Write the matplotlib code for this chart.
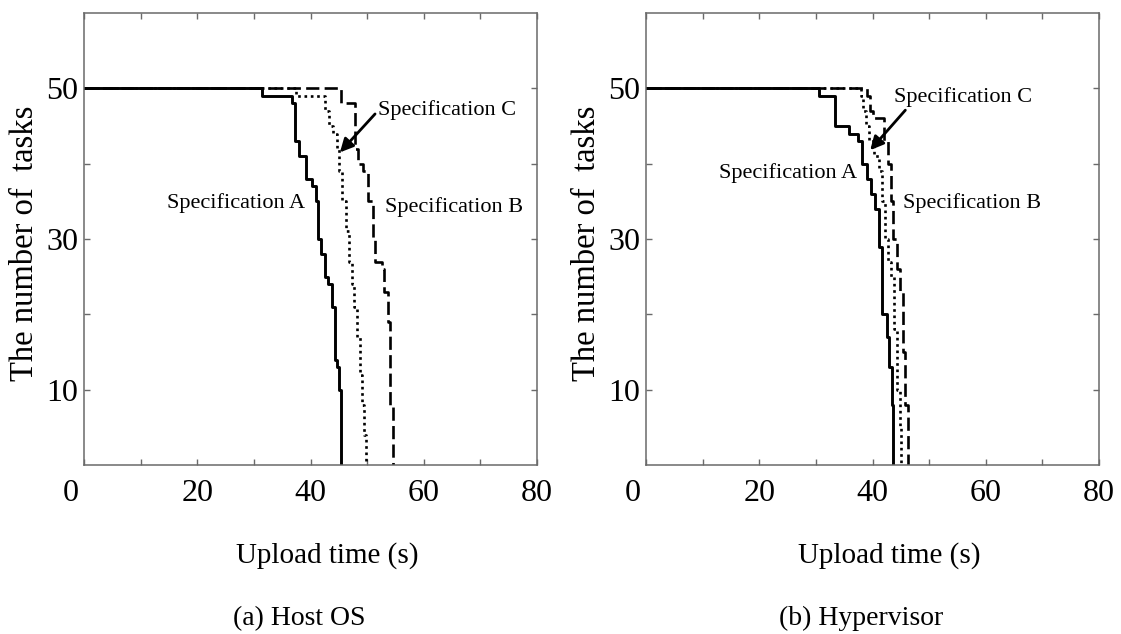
import matplotlib
matplotlib.use("Agg")
import matplotlib.pyplot as plt
import matplotlib.transforms as mtrans

plt.rcParams['font.family'] = ['Liberation Serif', 'DejaVu Serif']

# step points: time (s) where the count drops, and the count after the drop
host_a_t = [0, 31.5, 36.7, 37.3, 37.9, 39.2, 40.3, 40.9, 41.3, 41.9, 42.6, 43.1, 43.8, 44.3, 44.7, 45.0, 45.3]
host_a_n = [50, 49, 48, 43, 41, 38, 37, 35, 30, 28, 25, 24, 21, 14, 13, 10, 0]
host_b_t = [0, 45.3, 47.9, 48.4, 49.3, 50.2, 51.0, 51.4, 52.6, 53.0, 53.6, 54.1, 54.6]
host_b_n = [50, 48, 42, 40, 39, 35, 30, 27, 26, 23, 19, 8, 0]
host_c_t = [0, 37.5, 42.6, 43.3, 44.0, 44.6, 45.1, 45.6, 46.2, 46.8, 47.3, 47.7, 48.2, 48.7, 49.1, 49.5, 49.8]
host_c_n = [50, 49, 47, 45, 44, 42, 39, 35, 31, 27, 24, 21, 17, 12, 8, 4, 0]

hyp_a_t = [0, 30.6, 33.4, 35.9, 37.5, 38.2, 39.0, 39.7, 40.4, 41.1, 41.7, 42.5, 43.0, 43.4, 43.7]
hyp_a_n = [50, 49, 45, 44, 43, 40, 38, 36, 34, 29, 20, 17, 13, 8, 0]
hyp_b_t = [0, 39.0, 39.6, 40.0, 42.0, 42.7, 43.2, 43.7, 44.3, 44.8, 45.3, 45.8, 46.3]
hyp_b_n = [50, 49, 47, 46, 43, 40, 35, 30, 26, 23, 15, 8, 0]
hyp_c_t = [0, 38.0, 38.4, 38.8, 39.3, 40.2, 41.1, 41.7, 42.2, 42.8, 43.3, 43.8, 44.3, 44.8, 45.1]
hyp_c_n = [50, 49, 47, 45, 43, 41, 39, 35, 30, 27, 25, 18, 10, 5, 0]

x_ticks = [0, 10, 20, 30, 40, 50, 60, 70, 80]
x_labels = ['0', '', '20', '', '40', '', '60', '', '80']
y_ticks = [10, 20, 30, 40, 50]
y_labels = ['10', '', '30', '', '50']

panels = [
    dict(a=(host_a_t, host_a_n), b=(host_b_t, host_b_n), c=(host_c_t, host_c_n),
         caption='(a) Host OS',
         a_txt=(39.0, 34.8), b_txt=(53.2, 34.2), c_txt=(52.0, 47.1),
         arrow_from=(51.4, 46.6), arrow_to=(45.2, 41.5)),
    dict(a=(hyp_a_t, hyp_a_n), b=(hyp_b_t, hyp_b_n), c=(hyp_c_t, hyp_c_n),
         caption='(b) Hypervisor',
         a_txt=(37.3, 38.8), b_txt=(45.4, 34.8), c_txt=(43.8, 48.9),
         arrow_from=(45.8, 47.1), arrow_to=(39.6, 41.8)),
]

fig = plt.figure(figsize=(11.21, 6.34), dpi=100)
lefts = [84 / 1121, 646 / 1121]
spine_col = '#6a6a6a'

for left, p in zip(lefts, panels):
    ax = fig.add_axes([left, 169 / 634, 453 / 1121, 452 / 634])
    ax.step(*p['a'], where='post', color='black', lw=2.1)
    ax.step(*p['b'], where='post', color='black', lw=1.9, dashes=(5, 2))
    ax.step(*p['c'], where='post', color='black', lw=1.9, dashes=(1, 1.4))

    ax.set_xlim(0, 80)
    ax.set_ylim(0, 60)
    ax.set_xticks(x_ticks)
    ax.set_xticklabels(x_labels)
    ax.set_yticks(y_ticks)
    ax.set_yticklabels(y_labels)
    ax.tick_params(direction='in', top=True, right=True, length=4, width=1,
                   color=spine_col, labelsize=23, pad=4)
    ax.tick_params(axis='x', pad=10)
    for s in ax.spines.values():
        s.set_color(spine_col)
        s.set_linewidth(1.1)

    # the "0" label sits a bit left of the axis corner in the original
    t0 = ax.xaxis.get_major_ticks()[0]
    t0.label1.set_transform(t0.label1.get_transform() +
                            mtrans.ScaledTranslation(-0.13, 0, fig.dpi_scale_trans))

    ax.set_xlabel('Upload time (s)', fontsize=21)
    ax.xaxis.label.set_va('center')
    ax.xaxis.set_label_coords(0.536, -0.200)
    ax.set_ylabel('The number of  tasks', fontsize=23.5)
    ax.yaxis.label.set_va('center')
    ax.yaxis.set_label_coords(-0.130, 0.49)

    ax.text(0.475, -0.339, p['caption'], transform=ax.transAxes,
            ha='center', va='center', fontsize=20)

    ax.text(*p['a_txt'], 'Specification A', ha='right', va='center', fontsize=16)
    ax.text(*p['b_txt'], 'Specification B', ha='left', va='center', fontsize=16)
    ax.text(*p['c_txt'], 'Specification C', ha='left', va='center', fontsize=16)
    ax.annotate('', xy=p['arrow_to'], xytext=p['arrow_from'],
                arrowprops=dict(arrowstyle='-|>', color='black', lw=2.0,
                                mutation_scale=20, shrinkA=0, shrinkB=0))

fig.savefig('out.png', dpi=100)
